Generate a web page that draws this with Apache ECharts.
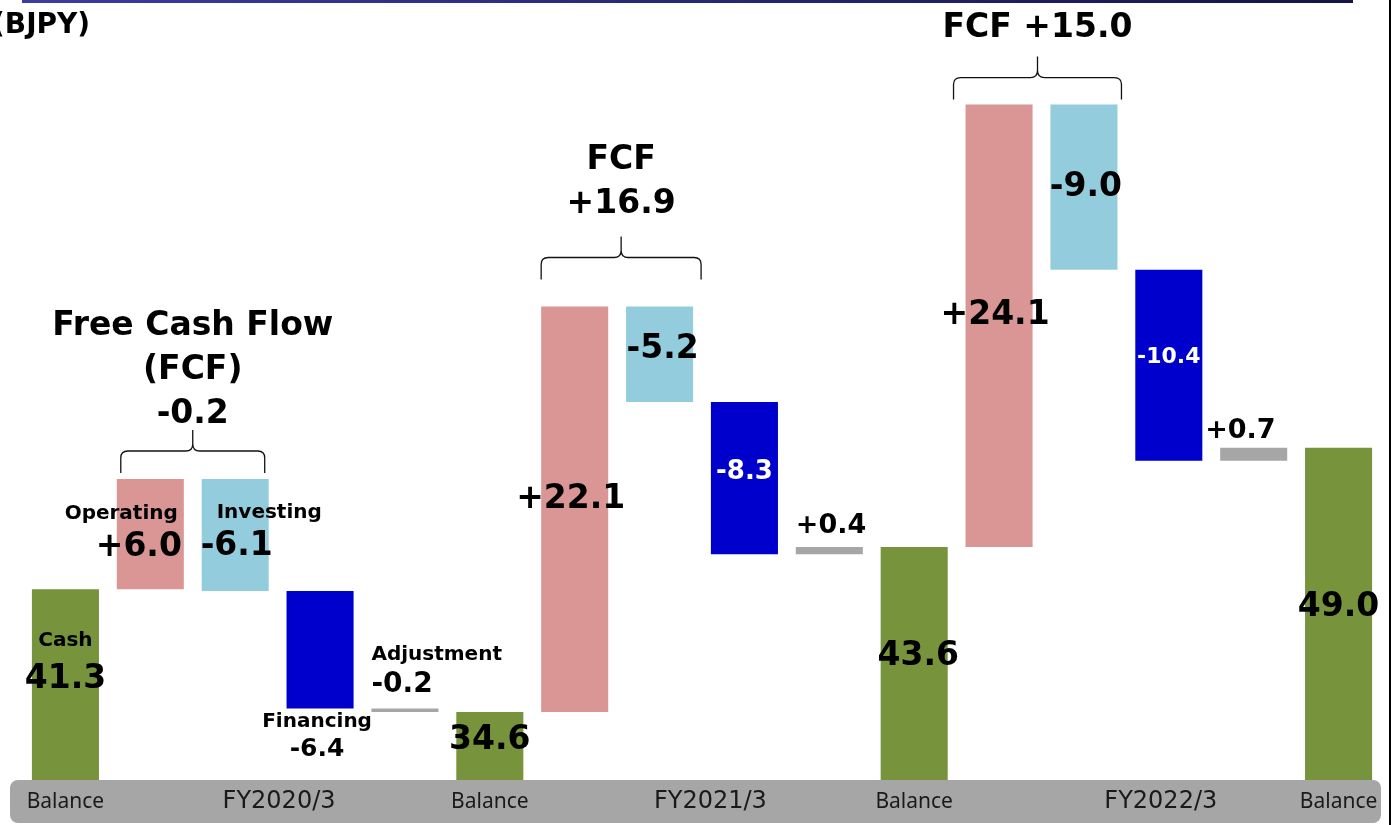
<!DOCTYPE html>
<html>
<head>
<meta charset="utf-8">
<title>Cash flow waterfall</title>
<script src="https://cdn.jsdelivr.net/npm/echarts@6/dist/echarts.min.js"></script>
<style>
  html, body { margin: 0; padding: 0; background: #fff; }
  #chart { width: 1394px; height: 825px; }
</style>
</head>
<body>
<div id="chart"></div>
<script>
// data (BJPY)
const categories = ['Balance', 'Operating', 'Investing', 'Financing', 'Adjustment',
  'Balance', 'Operating', 'Investing', 'Financing', 'Adjustment',
  'Balance', 'Operating', 'Investing', 'Financing', 'Adjustment', 'Balance'];
const balanceValues = [41.3, 34.6, 43.6, 49.0];
const operatingValues = [6.0, 22.1, 24.1];
const investingValues = [-6.1, -5.2, -9.0];
const financingValues = [-6.4, -8.3, -10.4];
const adjustmentValues = [-0.2, 0.4, 0.7];
const periodLabels = ['FY2020/3', 'FY2021/3', 'FY2022/3'];
const fcfLabels = ['-0.2', '+16.9', '+15.0'];
const itemTags = ['Cash', 'Operating', 'Investing', 'Financing', 'Adjustment'];

const colors = {
  balance: '#77933c',
  operating: '#d99694',
  investing: '#93cddd',
  financing: '#0000cc',
  adjustment: '#a6a6a6'
};
const FONT = 'DejaVu Sans';

// build waterfall steps
const steps = [];
for (let p = 0; p < periodLabels.length; p++) {
  let level = balanceValues[p];
  steps.push({ kind: 'balance', value: level });
  const flows = [
    ['operating', operatingValues[p]],
    ['investing', investingValues[p]],
    ['financing', financingValues[p]],
    ['adjustment', adjustmentValues[p]]
  ];
  flows.forEach(function (f) {
    const next = level + f[1];
    steps.push({ kind: f[0], delta: f[1], low: Math.min(level, next), high: Math.max(level, next) });
    level = next;
  });
}
steps.push({ kind: 'balance', value: balanceValues[balanceValues.length - 1] });

const baseData = steps.map(s => s.kind === 'balance' ? 0 : s.low);
const barData = steps.map(s => s.kind === 'balance' ? s.value : Math.abs(s.delta));

function valueText(s) {
  if (s.kind === 'balance') return s.value.toFixed(1);
  return (s.delta > 0 ? '+' : '-') + Math.abs(s.delta).toFixed(1);
}

// label placement per bar (style only)
const labelLayout = [
  { position: 'inside', offset: [0, -24], size: 33, tagLh: 38 },
  { position: 'insideRight', distance: 2, align: 'right', size: 33, tagPad: [0, 4, 0, 0] },
  { position: 'insideLeft', distance: 0, align: 'left', size: 33, offset: [-1, -2], tagPad: [0, 0, 0, 16] },
  { position: 'bottom', distance: 0, size: 25, offset: [-3, 0] },
  { position: [0, -7], align: 'left', verticalAlign: 'bottom', size: 28 },
  { position: 'inside', offset: [0, -6], size: 33 },
  { position: 'inside', offset: [-4, -10], size: 33 },
  { position: 'inside', offset: [3, -5], size: 33 },
  { position: 'inside', offset: [0, -6], size: 26, color: '#fff' },
  { position: [0, -4], align: 'left', verticalAlign: 'bottom', size: 27 },
  { position: 'inside', offset: [4, -7], size: 33 },
  { position: 'inside', offset: [-4, -10], size: 33 },
  { position: 'inside', offset: [2, 0], size: 33 },
  { position: 'inside', offset: [0, -8], size: 22, color: '#fff' },
  { position: [-15, 0], align: 'left', verticalAlign: 'bottom', size: 27 },
  { position: 'inside', offset: [0, -6], size: 33 }
];

const visibleData = barData.map(function (v, i) {
  const s = steps[i];
  const lay = labelLayout[i];
  const tag = i < itemTags.length ? itemTags[i] : null;
  const label = {
    show: true,
    position: lay.position,
    distance: lay.distance,
    offset: lay.offset,
    align: lay.align,
    verticalAlign: lay.verticalAlign,
    formatter: tag ? '{t|' + tag + '}\n{n|' + valueText(s) + '}' : '{n|' + valueText(s) + '}',
    rich: {
      t: { fontFamily: FONT, fontWeight: 'bold', fontSize: 20, lineHeight: lay.tagLh || 26, color: '#000', padding: lay.tagPad || 0 },
      n: { fontFamily: FONT, fontWeight: 'bold', fontSize: lay.size, lineHeight: Math.round(lay.size * 1.22), color: lay.color || '#000' }
    }
  };
  return { value: v, itemStyle: { color: colors[s.kind] }, label: label };
});

// brackets above operating + investing bars
const bracketData = periodLabels.map(function (p, k) {
  const opIdx = k * 5 + 1;
  return [opIdx, opIdx + 1, steps[opIdx].high];
});
const bracketGap = [6, 27, 5];
const bracketInset = [[4, -4], [0, 8], [-12, 4]];
const bracketTextGap = [-6, 10, 6];
const bracketText = [
  'Free Cash Flow\n(FCF)\n' + fcfLabels[0],
  'FCF\n' + fcfLabels[1],
  'FCF ' + fcfLabels[2]
];

function renderBracket(params, api) {
  const i = params.dataIndex;
  const p1 = api.coord([api.value(0), api.value(2)]);
  const p2 = api.coord([api.value(1), api.value(2)]);
  const half = api.size([1, 0])[0] * 0.79 / 2;
  const x1 = p1[0] - half + bracketInset[i][0];
  const x2 = p2[0] + half + bracketInset[i][1];
  const xm = (x1 + x2) / 2;
  const yb = p1[1] - bracketGap[i];
  const yh = yb - 22;
  const yt = yh - 21;
  const r = 7;
  const path = 'M' + x1 + ',' + yb + ' L' + x1 + ',' + (yh + r) +
    ' Q' + x1 + ',' + yh + ' ' + (x1 + r) + ',' + yh +
    ' L' + (xm - r) + ',' + yh +
    ' Q' + xm + ',' + yh + ' ' + xm + ',' + (yh - r) +
    ' L' + xm + ',' + yt +
    ' M' + xm + ',' + (yh - r) +
    ' Q' + xm + ',' + yh + ' ' + (xm + r) + ',' + yh +
    ' L' + (x2 - r) + ',' + yh +
    ' Q' + x2 + ',' + yh + ' ' + x2 + ',' + (yh + r) +
    ' L' + x2 + ',' + yb;
  return {
    type: 'group',
    children: [
      {
        type: 'path',
        shape: { pathData: path },
        style: { fill: null, stroke: '#111', lineWidth: 1.3 }
      },
      {
        type: 'text',
        style: {
          text: bracketText[i],
          x: xm,
          y: yt - bracketTextGap[i],
          align: 'center',
          verticalAlign: 'bottom',
          fontFamily: FONT,
          fontWeight: 'bold',
          fontSize: 33,
          lineHeight: 44,
          fill: '#000'
        }
      }
    ]
  };
}

const chart = echarts.init(document.getElementById('chart'));

const option = {
  animation: false,
  grid: { left: 23, right: 13, top: 0, bottom: 45 },
  xAxis: {
    type: 'category',
    data: categories,
    axisLine: { show: false },
    axisTick: { show: false },
    axisLabel: {
      interval: 0,
      margin: 10,
      formatter: function (value, index) {
        if (value === 'Balance') return '{b|Balance}';
        if (value === 'Financing') {
          const k = Math.floor(index / 5);
          return '{fy' + k + '|' + periodLabels[k] + '}';
        }
        return '';
      },
      rich: {
        b: { fontFamily: 'Noto Sans', fontSize: 21, color: '#1a1a1a', padding: [2, 0, 0, 0] },
        fy0: { fontFamily: FONT, fontSize: 24, color: '#1a1a1a', padding: [0, 82, 0, 0] },
        fy1: { fontFamily: FONT, fontSize: 24, color: '#1a1a1a', padding: [0, 68, 0, 0] },
        fy2: { fontFamily: FONT, fontSize: 24, color: '#1a1a1a', padding: [0, 16, 0, 0] }
      }
    }
  },
  yAxis: {
    type: 'value',
    min: 30.9,
    max: 73.4,
    show: false,
    splitLine: { show: false }
  },
  graphic: [
    {
      type: 'rect',
      z: -10,
      shape: { x: 10, y: 780, width: 1371, height: 43, r: 8 },
      style: { fill: '#a6a6a6' }
    },
    {
      type: 'rect',
      shape: { x: 22, y: 0, width: 1331, height: 3 },
      style: {
        fill: new echarts.graphic.LinearGradient(0, 0, 1, 0, [
          { offset: 0, color: '#3c3ca2' },
          { offset: 1, color: '#141448' }
        ])
      }
    },
    {
      type: 'line',
      shape: { x1: 1390, y1: 0, x2: 1390, y2: 825 },
      style: { stroke: '#000', lineWidth: 2 }
    },
    {
      type: 'text',
      x: -8,
      y: 26,
      style: {
        text: '(BJPY)',
        fontFamily: FONT,
        fontWeight: 'bold',
        fontSize: 28,
        fill: '#000',
        verticalAlign: 'middle'
      }
    }
  ],
  series: [
    {
      name: 'base',
      type: 'bar',
      stack: 'wf',
      barWidth: '79%',
      silent: true,
      itemStyle: { color: 'transparent' },
      data: baseData
    },
    {
      name: 'flow',
      type: 'bar',
      stack: 'wf',
      barWidth: '79%',
      data: visibleData
    },
    {
      name: 'fcf',
      type: 'custom',
      dimensions: ['from', 'to', 'top'],
      encode: { x: 0, y: 2 },
      renderItem: renderBracket,
      data: bracketData,
      z: 5
    }
  ]
};

chart.setOption(option);
</script>
</body>
</html>
